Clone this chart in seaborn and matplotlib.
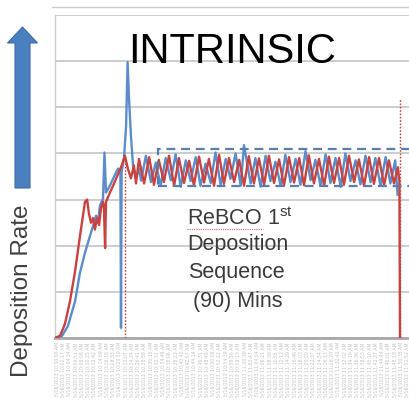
import matplotlib
matplotlib.use("Agg")
import matplotlib.pyplot as plt
import seaborn as sns
import pandas as pd
import numpy as np
from matplotlib.patches import Polygon, Rectangle
from matplotlib.lines import Line2D

# ---------------- data (minutes, deposition rate in arbitrary units) ----------------
red_t = [0, 1.7, 3.3, 5.0, 6.7, 8.3, 10.0, 10.7, 11.3, 12.0, 12.7, 13.3, 14.0, 14.7, 15.3,
         16.0, 16.3, 16.7, 17.0, 18.3, 19.7, 21.0, 22.3, 23.3, 24.3, 25.3, 26.3, 27.0, 28.0,
         29.7, 31.4, 33.0, 34.6, 36.3, 38.0, 39.7, 41.3, 43.0, 44.7, 46.3, 48.0, 49.7, 51.3,
         53.0, 54.7, 56.3, 58.0, 59.7, 61.4, 63.0, 64.6, 66.3, 68.0, 69.7, 71.3, 73.0, 74.7,
         76.3, 78.0, 79.7, 81.4, 83.0, 84.6, 86.3, 88.0, 89.7, 91.3, 93.0, 94.7, 96.3, 98.0,
         99.7, 101.3, 103.0, 104.7, 106.3, 108.0, 109.7, 111.3, 113.0, 114.3, 114.8, 115.0]
red_v = [0, 0.05, 0.3, 0.8, 1.45, 2.2, 2.95, 3.0, 2.7, 2.5, 2.6, 2.35, 2.6, 2.45, 2.8,
         2.95, 2.85, 1.95, 2.95, 3.15, 3.35, 3.55, 3.75, 3.95, 3.67, 3.46, 3.74, 3.35, 3.88,
         3.35, 3.92, 3.32, 3.86, 3.38, 3.95, 3.30, 3.90, 3.36, 3.84, 3.31, 3.93, 3.37, 3.88,
         3.30, 3.97, 3.34, 3.90, 3.38, 3.86, 3.30, 3.94, 3.35, 3.89, 3.32, 3.95, 3.36, 3.87,
         3.30, 3.92, 3.37, 3.90, 3.31, 3.96, 3.35, 3.88, 3.30, 3.93, 3.36, 3.90, 3.32, 3.95,
         3.38, 3.87, 3.30, 3.92, 3.34, 3.90, 3.31, 3.85, 3.35, 3.70, 3.40, 0.0]

blue_t = [0, 2.3, 4.3, 6.7, 8.3, 10.0, 11.7, 12.7, 13.7, 14.3, 15.0, 16.0, 16.5, 17.0, 18.3,
          19.7, 21.0, 21.8, 22.0, 22.2, 23.0, 23.7, 24.2, 24.7, 25.3, 26.0, 27.0, 28.0, 28.7,
          30.3, 32.0, 33.6, 35.2, 36.9, 38.6, 40.2, 41.9, 43.6, 45.2, 46.9, 48.5, 50.2, 51.9,
          53.5, 55.2, 56.9, 58.5, 60.2, 61.9, 63.0, 65.2, 66.8, 68.5, 70.2, 71.8, 73.5, 75.2,
          76.8, 78.5, 80.2, 81.8, 83.5, 85.2, 86.8, 88.5, 90.2, 91.8, 93.5, 95.2, 96.8, 98.5,
          100.2, 101.8, 103.5, 105.2, 106.8, 108.5, 110.2, 111.8, 113.4, 114.2]
blue_v = [0, 0.04, 0.26, 0.8, 1.41, 1.85, 2.22, 2.43, 2.65, 2.5, 2.87, 3.02, 4.02, 3.15, 3.30,
          3.50, 3.67, 3.63, 0.22, 3.60, 3.90, 4.60, 5.98, 5.15, 4.40, 3.74, 3.46, 3.67, 3.41,
          3.95, 3.38, 3.80, 3.30, 3.90, 3.42, 3.98, 3.28, 3.85, 3.40, 3.92, 3.30, 3.78, 3.36,
          4.02, 3.32, 3.88, 3.45, 4.00, 3.30, 4.18, 3.35, 3.90, 3.28, 3.95, 3.40, 3.82, 3.30,
          3.97, 3.38, 3.88, 3.32, 4.05, 3.42, 3.86, 3.30, 3.98, 3.36, 3.90, 3.28, 4.00, 3.40,
          3.85, 3.33, 3.95, 3.38, 3.90, 3.30, 3.92, 3.35, 3.85, 3.10]

band_start = 34.3
band_end = 121.0
band_low = 3.30
band_high = 4.09

marker_t = [23.3, 115.0]
marker_top = [3.95, 5.2]

time_labels = [f"5/16/2013 {10 + (i * 2) // 60}:{(i * 2) % 60:02d}:{(i * 17) % 60:02d} AM"
               for i in range(57)]

RED = "#c8423f"
BLUE = "#5b8ccc"
BAND = "#5a7fae"
W, H = 409, 400

def fx(px):
    return px / W

def fy(py):
    return 1 - py / H

sns.set_style("white")
plt.rcParams["font.family"] = ["Liberation Sans", "DejaVu Sans"]
plt.rcParams["mathtext.fontset"] = "custom"
plt.rcParams["mathtext.rm"] = "Liberation Sans"

fig = plt.figure(figsize=(W / 100, H / 100), dpi=100)
ax = fig.add_axes([fx(55), 62 / H, (W - 55) / W, 323 / H])

df_blue = pd.DataFrame({"t": blue_t, "v": blue_v})
df_red = pd.DataFrame({"t": red_t, "v": red_v})
sns.lineplot(data=df_blue, x="t", y="v", ax=ax, sort=False, estimator=None,
             color=BLUE, lw=1.7, zorder=3)
sns.lineplot(data=df_red, x="t", y="v", ax=ax, sort=False, estimator=None,
             color=RED, lw=1.7, zorder=4)

ax.add_patch(Rectangle((band_start, band_low), band_end - band_start, band_high - band_low,
                       fill=False, ec=BAND, lw=1.6, ls=(0, (4, 2.6)), zorder=5,
                       clip_on=True))
for mt, top in zip(marker_t, marker_top):
    ax.plot([mt, mt], [0, top], color=RED, lw=1.0, ls=(0, (1.2, 1.2)), zorder=4)

ax.set_xlim(0, 118)
ax.set_ylim(0, 7)
ax.set_yticks(range(0, 8))
ax.yaxis.grid(True, color="#c9c9c9", lw=1.3)
ax.xaxis.grid(False)
ax.set_yticklabels([])
ax.tick_params(axis="y", length=0)
ticks = np.linspace(0.6, 117.4, len(time_labels))
ax.set_xticks(ticks)
ax.set_xticklabels(time_labels, rotation=90, fontsize=3.3, color="#c0c0c0",
                   family="DejaVu Sans")
ax.tick_params(axis="x", length=0, pad=3)
ax.set_xlabel("")
ax.set_ylabel("")
for s in ["top", "right"]:
    ax.spines[s].set_visible(False)
ax.spines["left"].set_color("#cfcfcf")
ax.spines["left"].set_linewidth(1.0)
ax.spines["bottom"].set_color("#a8a8a8")
ax.spines["bottom"].set_linewidth(2.0)

# outer frame line
fig.add_artist(Line2D([fx(52), 1.0], [fy(7), fy(7)], color="#cfcfcf", lw=1.0,
                      transform=fig.transFigure))

# arrow on the left
arrow_px = [(15, 188), (30, 188), (30, 43), (37.5, 43), (22.5, 27), (7.5, 43), (15, 43)]
fig.add_artist(Polygon([(fx(x), fy(y)) for x, y in arrow_px], closed=True,
                       facecolor="#4a7fc0", edgecolor="#3d6ea8", lw=0.8,
                       transform=fig.transFigure))

fig.text(fx(22), fy(291), "Deposition Rate", rotation=90, ha="center", va="center",
         fontsize=17.5, color="#404040")

fig.text(fx(232.5), fy(63), "INTRINSIC", ha="center", va="baseline",
         fontsize=30, color="black")

fig.text(fx(187), fy(225), r"ReBCO 1$^{\mathrm{st}}$", ha="left", va="baseline",
         fontsize=15.5, color="#3a3a3a")
fig.text(fx(187), fy(250), "Deposition", ha="left", va="baseline",
         fontsize=15.5, color="#3a3a3a")
fig.text(fx(188), fy(278), "Sequence", ha="left", va="baseline",
         fontsize=15.5, color="#3a3a3a")
fig.text(fx(193), fy(307), "(90) Mins", ha="left", va="baseline",
         fontsize=15.5, color="#3a3a3a")
fig.add_artist(Line2D([fx(187), fx(263)], [fy(228.5), fy(228.5)], color="#e06060",
                      lw=0.8, ls=(0, (1, 1)), transform=fig.transFigure))

fig.savefig("out.png", dpi=100, facecolor="white")
